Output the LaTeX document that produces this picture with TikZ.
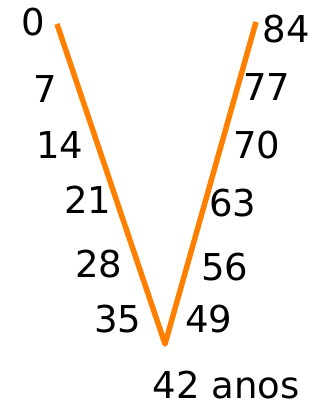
\documentclass[tikz,border=0pt]{standalone}
\usepackage{fontspec}
\setmainfont{DejaVu Sans}
\begin{document}
\begin{tikzpicture}[x=1pt,y=-1pt,
  num/.style={anchor=base,inner sep=0pt,font=\fontsize{37}{40}\selectfont},
  vline/.style={draw={rgb,255:red,255;green,128;blue,0},line width=5.5pt,line join=round}]
\useasboundingbox (0,0) rectangle (324,403);
\coordinate (tl) at (57,24);
\coordinate (bot) at (165,344);
\coordinate (tr) at (256,22);
\draw[vline] (tl) -- (bot) -- (tr);
\node[num] (n0) at (33.5,36) {0};
\node[num] (n84) at (286.5,43) {84};
\node[num] (n7) at (45,103) {7};
\node[num] (n77) at (267,101) {77};
\node[num] (n14) at (60,158) {14};
\node[num] (n70) at (257,158) {70};
\node[num] (n21) at (88,213) {21};
\node[num] (n63) at (233,216) {63};
\node[num] (n28) at (99,277) {28};
\node[num] (n56) at (225,280) {56};
\node[num] (n35) at (118,332) {35};
\node[num] (n49) at (209,332) {49};
\node[num] (n42) at (226,398) {42 anos};
\end{tikzpicture}
\end{document}
